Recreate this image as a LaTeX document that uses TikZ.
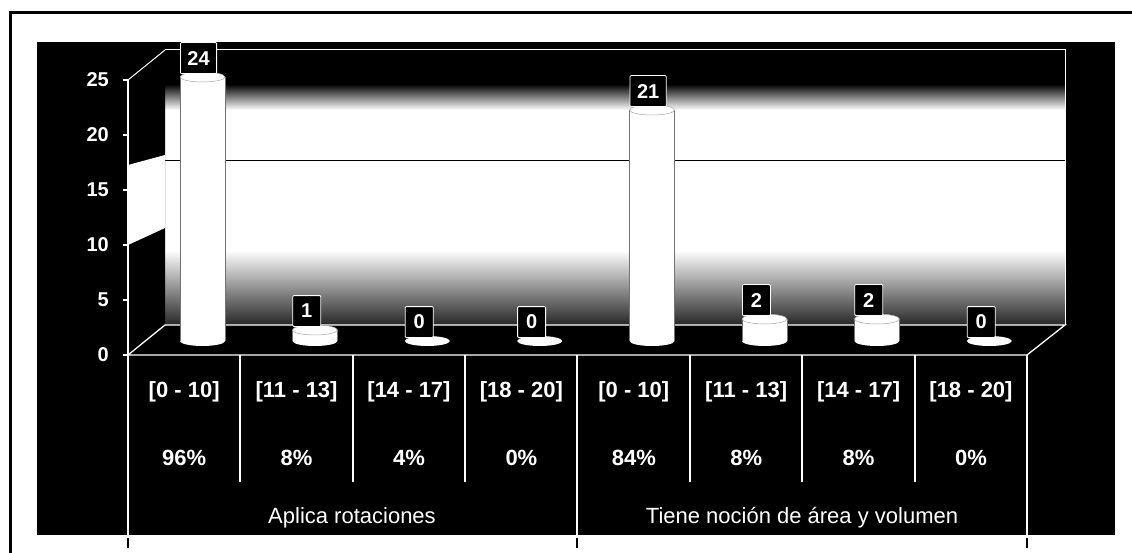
\documentclass[tikz,border=0pt]{standalone}
\usepackage{fontspec}
\setmainfont{Liberation Sans}
\usetikzlibrary{positioning}

\begin{document}
\begin{tikzpicture}[
    x=1pt, y=-1pt,
    tick/.style={anchor=east, inner sep=0pt, text=white, font=\bfseries\fontsize{20}{20}\selectfont},
    cell/.style={inner sep=0pt, text=white, font=\bfseries\fontsize{22}{22}\selectfont},
    group/.style={inner sep=0pt, text=white, font=\fontsize{22}{22}\selectfont},
    vlabel/.style={anchor=south west, draw=white, fill=black, line width=0.8pt, rounded corners=1pt, inner xsep=7pt, minimum width=28pt, minimum height=31pt, text=white, font=\bfseries\fontsize{20}{20}\selectfont},
    wire/.style={white, line width=1.3pt},
    edge/.style={black!55, line width=0.6pt}
]

\useasboundingbox (0,0) rectangle (1132,553);
\fill[white] (0,0) rectangle (1132,553);

% Frame and dark panel
\draw[line width=3pt] (10,553) -- (10,13) -- (1132,13);
\fill[black] (37,42) rectangle (1115,535);

% Back wall
\fill[white] (165,50) rectangle (1065,325);
\fill[black] (165,50) rectangle (1065,84);
\shade[top color=black, bottom color=white] (165,84) rectangle (1065,110);
\shade[top color=white, bottom color=black!85] (165,250) rectangle (1065,325);
\draw[black, line width=0.8pt] (165,160) -- (1065,160);
\draw[wire, line width=1pt] (165,50) -- (1065,50) -- (1065,325);

% Side wall
\fill[black] (128,80) -- (165,50) -- (165,325) -- (128,355) -- cycle;
\fill[white] (128,165) -- (165,155) -- (165,228) -- (128,245) -- cycle;
\draw[wire, line width=1pt] (128,80) -- (165,50);

% Floor
\fill[black] (128,355) -- (165,325) -- (1065,325) -- (1027,355) -- cycle;
\draw[wire] (128,355) -- (165,325) -- (1065,325) -- (1027,355) -- cycle;

% Value axis
\draw[wire] (128,80) -- (128,355);
\foreach \v in {0,5,...,25} {
  \draw[wire] (123,{355-11*\v}) -- (128,{355-11*\v});
  \node[tick] (y\v) at (109,{355-11*\v}) {\v};
}

% Bars
\foreach \v [count=\i from 0] in {24,1,0,0,21,2,2,0} {
  \pgfmathsetmacro\cx{202.5+112.4*\i}
  \pgfmathsetmacro\cy{341-11*\v}
  \ifnum\v>0
    \fill[white] (\cx-22.5,\cy) rectangle (\cx+22.5,341);
    \fill[white] (\cx,341) ellipse [x radius=22.5, y radius=5];
    \draw[edge] (\cx-22.5,\cy) -- (\cx-22.5,341);
    \draw[edge] (\cx+22.5,\cy) -- (\cx+22.5,341);
    \filldraw[fill=white, draw=black!35, line width=0.5pt] (\cx,\cy) ellipse [x radius=22.5, y radius=5];
  \else
    \fill[white] (\cx,341) ellipse [x radius=22.5, y radius=5];
  \fi
  \node[vlabel] (bar\i) at (\cx-22.5,\cy-3) {\v};
}

% Data table
\foreach \x in {128,577,1027} {
  \draw[wire] (\x,355) -- (\x,535);
  \draw[line width=1.5pt] (\x,538) -- (\x,548);
}
\foreach \x in {240,353,465,690,802,915}
  \draw[wire] (\x,355) -- (\x,482);

\foreach \g in {0,1} {
  \foreach \r [count=\j from 0] in {{[0 - 10]},{[11 - 13]},{[14 - 17]},{[18 - 20]}} {
    \pgfmathtruncatemacro\k{4*\g+\j}
    \node[cell] (rng\k) at ({184.2+112.4*\k},392) {\r};
  }
}
\foreach \p [count=\k from 0] in {96,8,4,0,84,8,8,0}
  \node[cell] (pct\k) at ({184.2+112.4*\k},458) {\p\%};

\node[group] (grpA) at (352,518) {Aplica rotaciones};
\node[group] (grpB) at (802,518) {Tiene noción de área y volumen};

\end{tikzpicture}
\end{document}
